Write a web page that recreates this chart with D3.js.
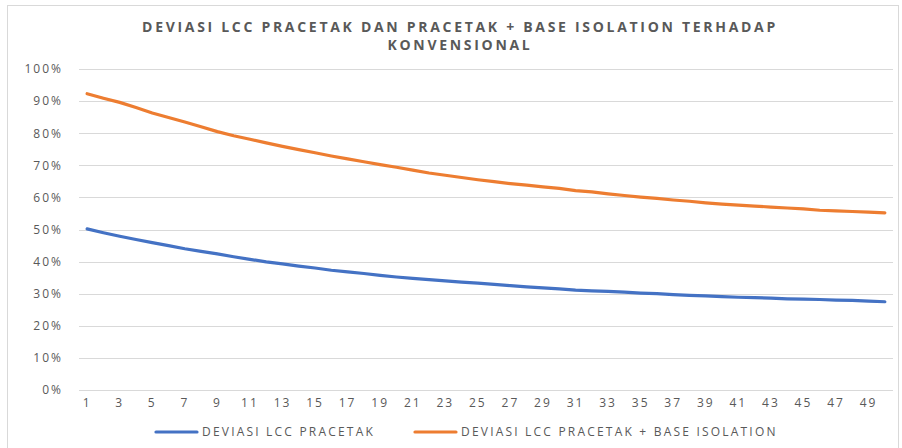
<!DOCTYPE html>
<html>
<head>
<meta charset="utf-8">
<script src="https://cdn.jsdelivr.net/npm/d3@7"></script>
<style>
  body { margin: 0; background: #fff; }
  svg text { font-family: "Open Sans", sans-serif; fill: #595959; }
</style>
</head>
<body>
<div id="vis"></div>
<script>
var width = 902,
	height = 448;

// tahun ke- (1..50)
var years = d3.range(1, 51);

// deviasi LCC pracetak (%)
var pracetak = [50.2, 49.0, 47.9, 46.9, 45.9, 45.0, 44.0, 43.2, 42.4, 41.5,
	40.7, 39.9, 39.3, 38.6, 38.0, 37.3, 36.8, 36.3, 35.7, 35.2,
	34.8, 34.4, 34.0, 33.6, 33.3, 32.9, 32.5, 32.1, 31.8, 31.5,
	31.1, 30.9, 30.7, 30.5, 30.2, 30.0, 29.7, 29.5, 29.3, 29.1,
	28.9, 28.8, 28.6, 28.4, 28.3, 28.2, 28.0, 27.9, 27.7, 27.5];

// deviasi LCC pracetak + base isolation (%)
var pracetakBI = [92.3, 90.9, 89.6, 88.0, 86.3, 84.9, 83.5, 82.0, 80.5, 79.2,
	78.1, 77.0, 75.9, 74.9, 73.9, 72.9, 72.0, 71.1, 70.2, 69.4,
	68.5, 67.6, 66.9, 66.2, 65.5, 64.9, 64.3, 63.8, 63.3, 62.8,
	62.1, 61.7, 61.1, 60.6, 60.1, 59.7, 59.2, 58.8, 58.3, 57.9,
	57.6, 57.3, 57.0, 56.7, 56.4, 56.0, 55.8, 55.6, 55.4, 55.2];

var yTicks = [0, 10, 20, 30, 40, 50, 60, 70, 80, 90, 100];

var seriesNames = ["DEVIASI LCC PRACETAK", "DEVIASI LCC PRACETAK + BASE ISOLATION"];
var seriesColors = ["#4472C4", "#ED7D31"];

var margin = {left: 79, right: 9, top: 69, bottom: 58};

var svg = d3.select('#vis')
	.append('svg')
	.attr('width', width)
	.attr('height', height);

// chart frame
svg.append('rect')
	.attr('x', 7.5).attr('y', 5.5)
	.attr('width', 891).attr('height', 450)
	.style('fill', 'none')
	.style('stroke', '#d9d9d9');

// title
var title = svg.append('text')
	.attr('text-anchor', 'middle')
	.style('font-size', '14px')
	.style('font-weight', 'bold')
	.style('letter-spacing', '2.7px');
title.append('tspan').attr('x', 460).attr('y', 32)
	.text('DEVIASI LCC PRACETAK DAN PRACETAK + BASE ISOLATION TERHADAP');
title.append('tspan').attr('x', 460).attr('y', 50)
	.text('KONVENSIONAL');

var x = d3.scaleBand()
	.domain(years)
	.range([margin.left, width - margin.right]);

var y = d3.scaleLinear()
	.domain([0, 100])
	.range([height - margin.bottom, margin.top]);

// gridlines
svg.append('g')
	.selectAll('line')
	.data(yTicks)
	.enter()
	.append('line')
	.attr('x1', margin.left)
	.attr('x2', width - margin.right)
	.attr('y1', function(d) { return Math.round(y(d)) + 0.5; })
	.attr('y2', function(d) { return Math.round(y(d)) + 0.5; })
	.style('stroke', '#d9d9d9')
	.style('stroke-width', 1);

// y axis labels
var yAxis = svg.append('g')
	.attr('transform', 'translate(' + (margin.left - 16) + ',0)')
	.call(d3.axisLeft(y).tickValues(yTicks).tickSize(0).tickPadding(0)
		.tickFormat(function(d) { return d + '%'; }));
yAxis.select('.domain').remove();
yAxis.selectAll('text')
	.style('font-size', '12px')
	.style('letter-spacing', '2px')
	.style('font-family', '"Open Sans", sans-serif')
	.attr('fill', '#595959');

// x axis labels (odd years only)
var xAxis = svg.append('g')
	.attr('transform', 'translate(0,' + (height - margin.bottom + 8) + ')')
	.call(d3.axisBottom(x).tickSize(0).tickPadding(0)
		.tickValues(years.filter(function(d) { return d % 2 === 1; })));
xAxis.select('.domain').remove();
xAxis.selectAll('text')
	.style('font-size', '12px')
	.style('letter-spacing', '2px')
	.style('font-family', '"Open Sans", sans-serif')
	.attr('fill', '#595959');

var line = d3.line()
	.x(function(d, i) { return x(years[i]) + x.bandwidth() / 2; })
	.y(function(d) { return y(d); });

[pracetak, pracetakBI].forEach(function(s, i) {
	svg.append('path')
		.datum(s)
		.attr('d', line)
		.style('fill', 'none')
		.style('stroke', seriesColors[i])
		.style('stroke-width', 3.2)
		.style('stroke-linecap', 'round')
		.style('stroke-linejoin', 'round');
});

// legend
var legendX = [156, 415];
var legend = svg.append('g')
	.selectAll('g')
	.data(seriesNames)
	.enter()
	.append('g')
	.attr('transform', function(d, i) { return 'translate(' + legendX[i] + ',432)'; });

legend.append('line')
	.attr('x1', 0).attr('x2', 41)
	.style('stroke', function(d, i) { return seriesColors[i]; })
	.style('stroke-width', 3.2)
	.style('stroke-linecap', 'round');

legend.append('text')
	.attr('x', 46)
	.attr('dy', '0.35em')
	.style('font-size', '12px')
	.style('letter-spacing', '2.2px')
	.text(function(d) { return d; });
</script>
</body>
</html>
